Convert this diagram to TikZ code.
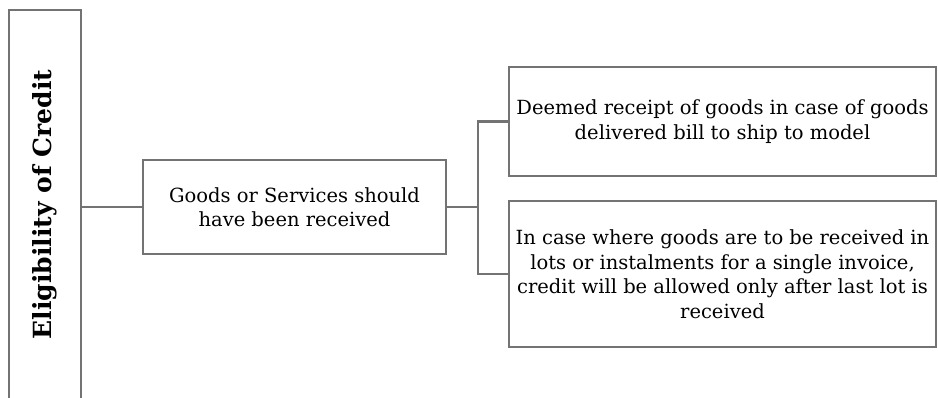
\documentclass[tikz,border=0pt]{standalone}
\usepackage{fontspec}
\setmainfont{DejaVu Serif}
\usetikzlibrary{positioning}
\tikzset{box/.style={draw=black!55, line width=2.9pt, align=center, inner sep=0pt, font=\fontsize{19.5}{24.5}\selectfont},
  link/.style={draw=black!55, line width=2.9pt}}

\begin{document}
\begin{tikzpicture}[x=1pt,y=1pt]
    \useasboundingbox (0,0) rectangle (938,398);
    \clip (0,0) rectangle (938,398);
    % left column, runs off the bottom
    \node[box, rotate=90, minimum width=389pt, minimum height=72pt, font=\fontsize{25}{30}\selectfont\bfseries] (credit) at (45,193.5) {Eligibility of Credit};
    \node[box, minimum width=303pt, minimum height=94pt] (goods) at (294.5,191) {Goods or Services should\\have been received};
    \node[box, minimum width=427pt, minimum height=109pt] (deemed) at (722.5,276.5) {Deemed receipt of goods in case of goods\\delivered bill to ship to model};
    \node[box, minimum width=427pt, minimum height=146pt] (lots) at (722.5,124) {In case where goods are to be received in\\lots or instalments for a single invoice,\\credit will be allowed only after last lot is\\received};
    \coordinate (fork) at (478,191);

    \draw[link] (credit.south |- goods.west) -- (goods.west);
    \draw[link] (goods.east) -- (fork);
    \draw[link] (deemed.west) -| (fork) |- (lots.west);
\end{tikzpicture}
\end{document}
